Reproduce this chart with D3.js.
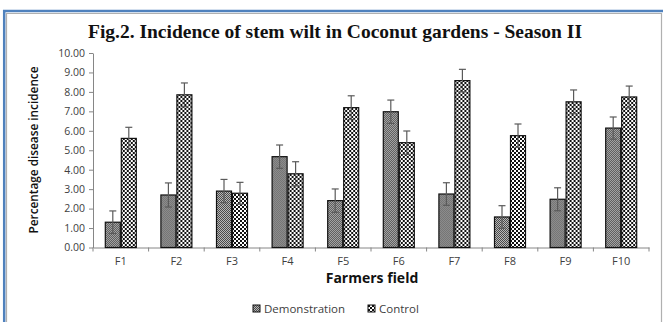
<!DOCTYPE html>
<html>
<head>
<meta charset="utf-8">
<script src="https://cdn.jsdelivr.net/npm/d3@7"></script>
<style>
  html, body { margin: 0; padding: 0; background: #fff; }
  svg { display: block; }
</style>
</head>
<body>
<svg id="chart" width="663" height="322"></svg>
<script>
// Farmers' fields and disease incidence (%) for season II
const fields = ["F1", "F2", "F3", "F4", "F5", "F6", "F7", "F8", "F9", "F10"];
const seriesNames = ["Demonstration", "Control"];
const demonstration = [1.30, 2.70, 2.90, 4.67, 2.41, 6.98, 2.75, 1.57, 2.48, 6.14];
const control = [5.61, 7.85, 2.79, 3.79, 7.19, 5.39, 8.58, 5.75, 7.49, 7.74];
const demonstrationErr = [0.58, 0.62, 0.60, 0.60, 0.60, 0.60, 0.58, 0.58, 0.59, 0.57];
const controlErr = [0.57, 0.61, 0.56, 0.62, 0.61, 0.60, 0.58, 0.60, 0.61, 0.56];
const yTicks = [0, 1, 2, 3, 4, 5, 6, 7, 8, 9, 10];

const svg = d3.select("#chart");
const W = 663, H = 322;

// frame: blue outer rule with a grey inner rule
svg.append("line").attr("x1", 3).attr("x2", W).attr("y1", 11).attr("y2", 11)
  .attr("stroke", "#4f81bd").attr("stroke-width", 2.5);
svg.append("line").attr("x1", 4.2).attr("x2", 4.2).attr("y1", 10).attr("y2", H)
  .attr("stroke", "#4f81bd").attr("stroke-width", 2.5);
svg.append("path").attr("d", `M6.5,${H} V13.5 H661.5 V${H}`)
  .attr("fill", "none").attr("stroke", "#b0b0b0").attr("stroke-width", 1.2);

// fill patterns
const defs = svg.append("defs");
const pDemo = defs.append("pattern").attr("id", "pat-demo")
  .attr("patternUnits", "userSpaceOnUse").attr("width", 2).attr("height", 2);
pDemo.append("rect").attr("width", 2).attr("height", 2).attr("fill", "#b8b8b8");
pDemo.append("rect").attr("width", 1).attr("height", 1).attr("fill", "#4a4a4a");
pDemo.append("rect").attr("x", 1).attr("y", 1).attr("width", 1).attr("height", 1).attr("fill", "#4a4a4a");

const pCtrl = defs.append("pattern").attr("id", "pat-ctrl")
  .attr("patternUnits", "userSpaceOnUse").attr("width", 4).attr("height", 4);
pCtrl.append("rect").attr("width", 4).attr("height", 4).attr("fill", "#ffffff");
pCtrl.append("rect").attr("width", 2).attr("height", 2).attr("fill", "#111");
pCtrl.append("rect").attr("x", 2).attr("y", 2).attr("width", 2).attr("height", 2).attr("fill", "#111");

const fills = ["url(#pat-demo)", "url(#pat-ctrl)"];

// title
svg.append("text")
  .attr("x", 335).attr("y", 38)
  .attr("text-anchor", "middle")
  .attr("font-family", "'Liberation Serif', 'Times New Roman', serif")
  .attr("font-weight", "bold")
  .attr("font-size", 19.5)
  .attr("fill", "#111")
  .text("Fig.2. Incidence of stem wilt in Coconut gardens - Season II");

// scales
const plot = { left: 93, right: 649, top: 53, bottom: 247.5 };
const x = d3.scaleBand().domain(fields).range([plot.left, plot.right]);
const xs = d3.scaleBand().domain(seriesNames).range([0, 32]);
const y = d3.scaleLinear().domain([0, 10]).range([plot.bottom, plot.top]);

const axisColor = "#868686";
const labelFont = "'Open Sans', 'DejaVu Sans', sans-serif";

// y axis
const yAxis = svg.append("g").attr("transform", `translate(${plot.left},0)`)
  .call(d3.axisLeft(y).tickValues(yTicks).tickSize(4).tickSizeOuter(0).tickFormat(d3.format(".2f")));
yAxis.select(".domain").attr("stroke", axisColor);
yAxis.selectAll(".tick line").attr("stroke", axisColor);
yAxis.selectAll(".tick text")
  .attr("font-family", labelFont).attr("font-size", 10.5).attr("fill", "#404040").attr("x", -8);

// x axis with ticks between categories
const xAxis = svg.append("g").attr("transform", `translate(0,${plot.bottom})`)
  .call(d3.axisBottom(x).tickSize(0).tickSizeOuter(0).tickPadding(10));
xAxis.select(".domain").attr("stroke", axisColor);
xAxis.selectAll(".tick text")
  .attr("font-family", labelFont).attr("font-size", 11).attr("fill", "#404040");
xAxis.selectAll(".sep").data(d3.range(fields.length + 1)).enter().append("line")
  .attr("x1", i => plot.left + i * x.step()).attr("x2", i => plot.left + i * x.step())
  .attr("y1", 0).attr("y2", 4).attr("stroke", axisColor);

// bars
const rows = fields.map((f, i) => ({
  field: f,
  vals: [
    { s: seriesNames[0], v: demonstration[i], e: demonstrationErr[i], k: 0 },
    { s: seriesNames[1], v: control[i], e: controlErr[i], k: 1 }
  ]
}));
const groups = svg.selectAll(".grp").data(rows).enter().append("g")
  .attr("transform", d => `translate(${x(d.field) + (x.bandwidth() - 32) / 2},0)`);

groups.selectAll("rect").data(d => d.vals).enter().append("rect")
  .attr("x", d => xs(d.s) + 0.5)
  .attr("width", xs.bandwidth() - 1)
  .attr("y", d => y(d.v))
  .attr("height", d => y(0) - y(d.v))
  .attr("fill", d => fills[d.k])
  .attr("stroke", "#111").attr("stroke-width", 1.2);

// error bars
const errColor = "#5a5a5a";
const eb = groups.selectAll(".err").data(d => d.vals).enter().append("g");
eb.append("line")
  .attr("x1", d => xs(d.s) + xs.bandwidth() / 2).attr("x2", d => xs(d.s) + xs.bandwidth() / 2)
  .attr("y1", d => y(d.v + d.e)).attr("y2", d => y(d.v - d.e))
  .attr("stroke", errColor).attr("stroke-width", 1.2);
[1, -1].forEach(sg => {
  eb.append("line")
    .attr("x1", d => xs(d.s) + xs.bandwidth() / 2 - 3.5).attr("x2", d => xs(d.s) + xs.bandwidth() / 2 + 3.5)
    .attr("y1", d => y(d.v + sg * d.e)).attr("y2", d => y(d.v + sg * d.e))
    .attr("stroke", errColor).attr("stroke-width", 1.2);
});

// axis titles
svg.append("text")
  .attr("transform", `translate(38,150) rotate(-90)`)
  .attr("text-anchor", "middle")
  .attr("font-family", labelFont).attr("font-weight", "600").attr("font-size", 11.8)
  .attr("fill", "#111")
  .text("Percentage disease incidence");
svg.append("text")
  .attr("x", 372).attr("y", 283)
  .attr("text-anchor", "middle")
  .attr("font-family", labelFont).attr("font-weight", "bold").attr("font-size", 14)
  .attr("fill", "#111")
  .text("Farmers field");

// legend
const legendX = [253, 368];
const lg = svg.selectAll(".lg").data(seriesNames).enter().append("g")
  .attr("transform", (d, i) => `translate(${legendX[i]},305)`);
lg.append("rect").attr("width", 7).attr("height", 7)
  .attr("fill", (d, i) => fills[i]).attr("stroke", "#111").attr("stroke-width", 1);
lg.append("text").attr("x", 11).attr("y", 8)
  .attr("font-family", labelFont).attr("font-size", 11.5).attr("fill", "#404040")
  .text(d => d);
</script>
</body>
</html>
